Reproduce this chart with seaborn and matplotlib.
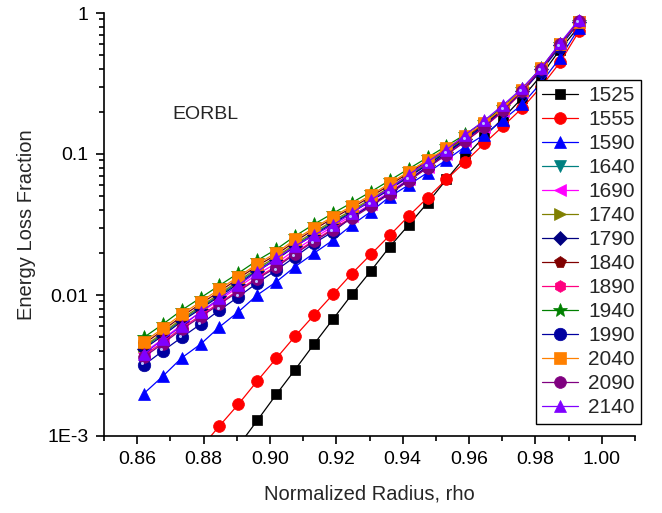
import numpy as np
import pandas as pd
import matplotlib
matplotlib.use("Agg")
import matplotlib.pyplot as plt
from matplotlib.ticker import FixedLocator, FixedFormatter, LogLocator, NullFormatter
from matplotlib.transforms import offset_copy
import seaborn as sns

# ---------------- data ----------------
rho = [0.8620, 0.8677, 0.8734, 0.8791, 0.8848, 0.8905, 0.8962, 0.9019,
       0.9076, 0.9133, 0.9190, 0.9247, 0.9304, 0.9361, 0.9418, 0.9475,
       0.9532, 0.9589, 0.9646, 0.9703, 0.9760, 0.9817, 0.9874, 0.9931]

nan = np.nan
y1525 = [nan, nan, nan, nan, nan, 0.00085, 0.00129, 0.00197, 0.00296, 0.00449, 0.00674, 0.0101,
         0.0148, 0.0220, 0.0314, 0.0451, 0.066, 0.0958, 0.133, 0.18, 0.25, 0.36, 0.55, 0.80]
y1555 = [nan, nan, nan, 0.00082, 0.00118, 0.00168, 0.00246, 0.00355, 0.00511, 0.0072, 0.0101, 0.0142,
         0.0194, 0.0265, 0.0363, 0.0490, 0.0662, 0.0883, 0.119, 0.158, 0.2115, 0.30, 0.446, 0.74]
y1590 = [0.0020, 0.00265, 0.00358, 0.00448, 0.00594, 0.0076, 0.0100, 0.0124, 0.0159, 0.0198, 0.0245, 0.0314,
         0.0390, 0.0498, 0.0603, 0.0738, 0.0908, 0.113, 0.137, 0.175, 0.225, 0.32, 0.48, 0.78]
y1640 = [0.00424, 0.00528, 0.00665, 0.00815, 0.0100, 0.0123, 0.0151, 0.0182, 0.0226, 0.0274, 0.0328, 0.0392,
         0.0470, 0.0572, 0.0697, 0.0850, 0.104, 0.128, 0.160, 0.207, 0.279, 0.399, 0.596, 0.87]
y1690 = [0.00390, 0.00487, 0.00615, 0.00752, 0.0092, 0.0114, 0.0140, 0.0168, 0.0209, 0.0254, 0.0306, 0.0366,
         0.0442, 0.0540, 0.0663, 0.0815, 0.100, 0.124, 0.156, 0.203, 0.276, 0.397, 0.595, 0.87]
y1740 = [0.00432, 0.00538, 0.00680, 0.00832, 0.0102, 0.0126, 0.0155, 0.0186, 0.0231, 0.0280, 0.0336, 0.0400,
         0.0480, 0.0583, 0.0710, 0.0865, 0.106, 0.130, 0.162, 0.209, 0.281, 0.401, 0.598, 0.87]
y1790 = [0.00414, 0.00515, 0.00650, 0.00797, 0.0098, 0.0120, 0.0148, 0.0178, 0.0221, 0.0268, 0.0322, 0.0385,
         0.0462, 0.0562, 0.0687, 0.0840, 0.103, 0.127, 0.159, 0.206, 0.278, 0.398, 0.595, 0.87]
y1840 = [0.00450, 0.00560, 0.00705, 0.00865, 0.0106, 0.0131, 0.0161, 0.0193, 0.0240, 0.0292, 0.0350, 0.0416,
         0.0498, 0.0604, 0.0732, 0.0888, 0.108, 0.132, 0.164, 0.211, 0.283, 0.403, 0.60, 0.87]
y1890 = [0.00372, 0.00463, 0.00585, 0.00716, 0.0088, 0.0108, 0.0133, 0.0160, 0.0200, 0.0244, 0.0295, 0.0355,
         0.0430, 0.0528, 0.0650, 0.0802, 0.099, 0.123, 0.155, 0.202, 0.275, 0.396, 0.595, 0.87]
y1940 = [0.00500, 0.00620, 0.00780, 0.00955, 0.0117, 0.0143, 0.0176, 0.0211, 0.0262, 0.0318, 0.0380, 0.0452,
         0.0540, 0.0650, 0.0785, 0.0945, 0.114, 0.138, 0.170, 0.216, 0.288, 0.408, 0.60, 0.87]
y1990 = [0.00318, 0.00401, 0.00500, 0.00621, 0.00781, 0.00971, 0.0122, 0.0150, 0.0187, 0.0233, 0.0281, 0.0356,
         0.0435, 0.0527, 0.0655, 0.0814, 0.101, 0.127, 0.161, 0.206, 0.276, 0.389, 0.576, 0.853]
y2040 = [0.00465, 0.00579, 0.00731, 0.00895, 0.0110, 0.0135, 0.0166, 0.0199, 0.0248, 0.0300, 0.0360, 0.0428,
         0.0512, 0.0620, 0.0750, 0.0908, 0.110, 0.134, 0.166, 0.213, 0.285, 0.405, 0.60, 0.87]
y2090 = [0.00362, 0.00452, 0.00570, 0.00700, 0.0086, 0.0106, 0.0130, 0.0157, 0.0196, 0.0240, 0.0290, 0.0350,
         0.0425, 0.0522, 0.0645, 0.0798, 0.099, 0.123, 0.156, 0.204, 0.278, 0.400, 0.600, 0.88]
y2140 = [0.0038, 0.00484, 0.00601, 0.0076, 0.00946, 0.01176, 0.01462, 0.01819, 0.02225, 0.0266, 0.0314, 0.038,
         0.0472, 0.0572, 0.0711, 0.0883, 0.107, 0.137, 0.173, 0.223, 0.293, 0.407, 0.612, 0.896]

series_names = ["1525", "1555", "1590", "1640", "1690", "1740", "1790",
                "1840", "1890", "1940", "1990", "2040", "2090", "2140"]
series_values = [y1525, y1555, y1590, y1640, y1690, y1740, y1790,
                 y1840, y1890, y1940, y1990, y2040, y2090, y2140]

x_ticks = [0.86, 0.88, 0.90, 0.92, 0.94, 0.96, 0.98, 1.00]
x_tick_labels = ["0.86", "0.88", "0.90", "0.92", "0.94", "0.96", "0.98", "1.00"]
y_ticks = [0.001, 0.01, 0.1, 1]
y_tick_labels = ["1E-3", "0.01", "0.1", "1"]

# ---------------- style ----------------
colors = ["#000000", "#FF0000", "#0000FF", "#008080", "#FF00FF", "#808000", "#000080",
          "#800000", "#FF0080", "#008000", "#0000A0", "#FF8000", "#800080", "#8000FF"]
markers = ["s", "o", "^", "v", "<", ">", "D", "p", "h", "*", "o", "s", "o", "^"]
msizes = [7.5, 8.5, 9, 9, 9, 9, 7, 8.5, 8.5, 10.5, 9, 8, 8.5, 9]

sns.set_style("ticks")
plt.rcParams["font.family"] = ["Liberation Sans", "DejaVu Sans"]

fig = plt.figure(figsize=(6.62, 5.13), dpi=100)
ax = fig.add_axes([104 / 662, 1 - 436 / 513, (635 - 104) / 662, (436 - 13) / 513])

for name, vals, c, m, ms in zip(series_names, series_values, colors, markers, msizes):
    df = pd.DataFrame({"rho": rho, "frac": vals}).dropna()
    sns.lineplot(data=df, x="rho", y="frac", ax=ax, color=c, marker=m,
                 markersize=ms, markeredgecolor=c, markeredgewidth=0.5,
                 linewidth=0.9, label=name, sort=False, estimator=None)

# shiny highlight on the 1990 spheres
hl = offset_copy(ax.transData, fig=fig, x=-1.2, y=1.2, units="points")
ax.plot(rho, y1990, linestyle="none", marker="o", markersize=2.2,
        color="#b8c0ff", markeredgewidth=0, transform=hl)

ax.set_yscale("log")
ax.set_xlim(0.85, 1.01)
ax.set_ylim(0.001, 1)

ax.xaxis.set_major_locator(FixedLocator(x_ticks))
ax.xaxis.set_major_formatter(FixedFormatter(x_tick_labels))
ax.xaxis.set_minor_locator(FixedLocator([0.85, 0.87, 0.89, 0.91, 0.93, 0.95, 0.97, 0.99, 1.01]))
ax.yaxis.set_major_locator(FixedLocator(y_ticks))
ax.yaxis.set_major_formatter(FixedFormatter(y_tick_labels))
ax.yaxis.set_minor_locator(LogLocator(base=10, subs=np.arange(2, 10), numticks=20))
ax.yaxis.set_minor_formatter(NullFormatter())

ax.tick_params(axis="both", which="major", direction="out", length=6, width=1.2,
               labelsize=14, color="black", labelcolor="black", pad=5)
ax.tick_params(axis="both", which="minor", direction="out", length=3.5, width=1.2, color="black")

for s in ["top", "right"]:
    ax.spines[s].set_visible(False)
for s in ["left", "bottom"]:
    ax.spines[s].set_linewidth(1.2)
    ax.spines[s].set_color("black")

ax.set_xlabel("Normalized Radius, rho", fontsize=14.5, labelpad=12)
ax.set_ylabel("Energy Loss Fraction", fontsize=14.5, labelpad=8)

ax.text(0.8806, 0.19, "EORBL", fontsize=14, ha="center", va="center")

leg = ax.legend(loc="upper left", bbox_to_anchor=(536 / 662, 1 - 80 / 513),
                bbox_transform=fig.transFigure, borderaxespad=0, frameon=True,
                fancybox=False, edgecolor="black", framealpha=1, fontsize=15,
                handlelength=1.7, handletextpad=0.5, labelspacing=0.24,
                borderpad=0.3)
leg.get_frame().set_linewidth(1.0)

fig.savefig("out.png", dpi=100)
